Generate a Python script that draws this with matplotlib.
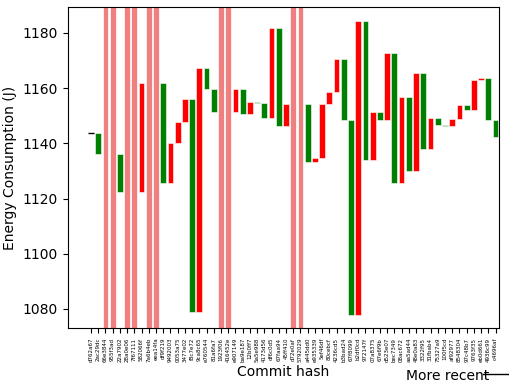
import numpy as np
import matplotlib
matplotlib.use("Agg")
import matplotlib.pyplot as plt
from matplotlib.lines import Line2D

commits = ["d762a67", "2ac29dc", "66e3844", "955f3ad", "22a7902", "28a0e06", "7f67111",
           "582066f", "7a6b4eb", "eea14fa", "df9f219", "9492003", "0053a75", "3477e02",
           "f8c7e72", "9ca8c65", "e760544", "81a6fa7", "1923f06", "416452e", "e907149",
           "ba9e187", "12b0ff7", "5a5e988", "4173d56", "df6c0d5", "67faa94", "45ff410",
           "d72e0af", "5792029", "a445dd0", "e935339", "5ef46df", "80cebcf", "4236cd5",
           "b3bad24", "67f8099", "b2df0cd", "972147f", "07a8375", "67e6f9b", "d523e07",
           "bec7349", "08ac672", "aa5ad44", "48e0a83", "3322f95", "31fbab4", "75327a9",
           "100f5cd", "af92977", "8548304", "97c48b7", "9763f35", "eb0d661", "4936c99",
           "c4696af"]

# mean energy per commit, nan where the measurement failed
energy = [1143.8, 1136.2, np.nan, np.nan, 1122.4, np.nan, np.nan, 1162.0, np.nan, np.nan,
          1125.6, 1140.0, 1147.6, 1156.1, 1079.0, 1167.2, 1159.7, 1151.5, np.nan, np.nan,
          1159.8, 1150.7, 1155.0, 1154.5, 1149.3, 1181.9, 1146.1, 1154.4, np.nan, np.nan,
          1133.4, 1134.7, 1154.4, 1158.5, 1170.7, 1148.3, 1077.8, 1184.3, 1134.0, 1151.4,
          1148.5, 1172.6, 1125.8, 1156.7, 1129.8, 1165.4, 1138.1, 1149.1, 1146.8, 1146.3,
          1148.8, 1153.8, 1152.0, 1163.1, 1163.5, 1148.5, 1142.4]

fig = plt.figure(figsize=(5.1, 3.85), dpi=100)
ax = fig.add_axes([0.133, 0.148, 0.845, 0.834])

prev = None
for i, e in enumerate(energy):
    if np.isnan(e):
        ax.axvspan(i - 0.4, i + 0.4, color="lightcoral", lw=0.5, ec="white")
        continue
    if prev is None:
        ax.hlines(e, i - 0.4, i + 0.4, color="black", lw=1)
    else:
        color = "green" if e < prev else "red"
        ax.bar(i, e - prev, bottom=prev, width=0.8, color=color,
               edgecolor="white", linewidth=0.4)
    prev = e

ax.set_xticks(range(len(commits)))
ax.set_xticklabels(commits, rotation=90, fontsize=4)
ax.set_xlim(-3.2, 56.45)
ax.set_ylim(1073.1, 1189.4)
ax.set_xlabel("Commit hash", labelpad=2)
ax.set_ylabel("Energy Consumption (J)")

fig.text(0.797, 0.0125, "More recent", fontsize=10)
fig.add_artist(Line2D([0.947, 1.0], [0.028, 0.028], color="black", lw=1,
                      transform=fig.transFigure))

fig.savefig("out.png", dpi=100)
